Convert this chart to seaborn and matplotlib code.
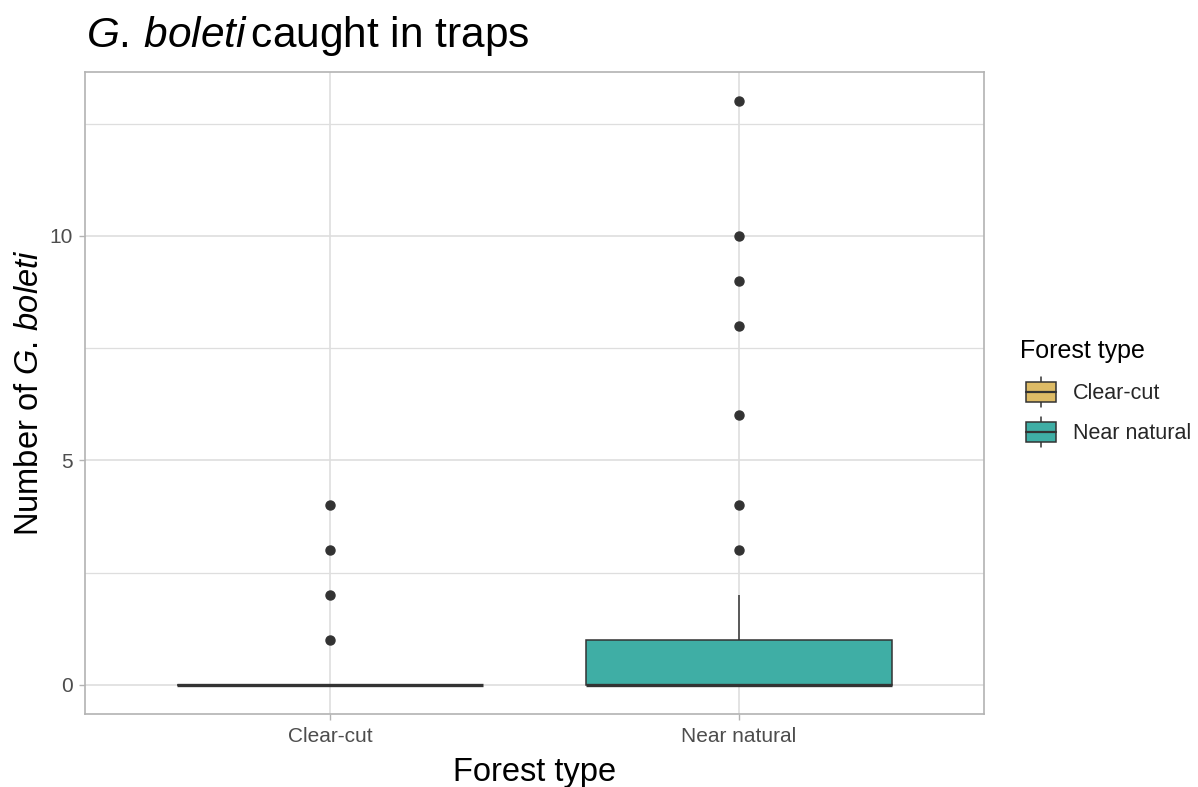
import numpy as np
import pandas as pd
import matplotlib
matplotlib.use("Agg")
import matplotlib.pyplot as plt
import seaborn as sns
from matplotlib.patches import Patch, Rectangle
from matplotlib.lines import Line2D
from matplotlib.legend_handler import HandlerBase

# Trap counts per forest type
clear_cut_counts = [0] * 40 + [1, 2, 3, 4]
near_natural_counts = [0] * 24 + [1] * 12 + [2] * 3 + [3, 4, 6, 8, 9, 10, 13]

forest_types = ["Clear-cut", "Near natural"]
palette_colors = ["#DDBB66", "#3FAEA5"]
y_ticks = [0, 5, 10]
y_minor = [2.5, 7.5, 12.5]

df = pd.DataFrame({
    "Forest type": ["Clear-cut"] * len(clear_cut_counts) + ["Near natural"] * len(near_natural_counts),
    "count": clear_cut_counts + near_natural_counts,
})

sns.set_theme(style="white")
plt.rcParams["font.family"] = ["Liberation Sans", "DejaVu Sans"]
plt.rcParams["mathtext.fontset"] = "custom"
plt.rcParams["mathtext.rm"] = "Liberation Sans"
plt.rcParams["mathtext.it"] = "Liberation Sans:italic"

DPI = 100
fig = plt.figure(figsize=(11.98, 7.87), dpi=DPI)
W, H = 1198, 787
left, right, top, bottom = 85, 984, 72, 714
ax = fig.add_axes([left / W, 1 - bottom / H, (right - left) / W, (bottom - top) / H])

dark = "#333333"
sns.boxplot(
    data=df, x="Forest type", y="count", hue="Forest type",
    order=forest_types, hue_order=forest_types,
    palette=dict(zip(forest_types, palette_colors)),
    width=0.75, linecolor=dark, linewidth=1.1, saturation=1,
    fliersize=6.5, showcaps=False,
    flierprops=dict(marker="o", markerfacecolor=dark, markeredgecolor=dark),
    medianprops=dict(linewidth=2.4, color=dark),
    legend=False, ax=ax, zorder=3,
)

ax.set_xlim(-0.6, 1.6)
ax.set_ylim(-0.65, 13.65)
ax.set_yticks(y_ticks)
ax.set_yticks(y_minor, minor=True)
ax.set_yticklabels([str(t) for t in y_ticks])

grid_c = "#DEDEDE"
ax.grid(True, which="major", color=grid_c, linewidth=1.2, zorder=0)
ax.grid(True, which="minor", axis="y", color=grid_c, linewidth=0.9, zorder=0)
ax.set_axisbelow(True)
for s in ax.spines.values():
    s.set_color("#B3B3B3")
    s.set_linewidth(1.2)

ax.tick_params(axis="both", which="major", length=4, width=1, color="#B3B3B3",
               labelsize=15, labelcolor="#4D4D4D", pad=5, left=True, bottom=True)
ax.tick_params(axis="y", which="minor", length=0)
ax.set_xlabel("")
ax.set_ylabel("")

fig.text(0.5 * (left + right) / W, 5.5 / H, "Forest type", ha="center", va="baseline",
         fontsize=23.5, color="black")
fig.text(30 / W, 1 - 0.5 * (top + bottom) / H, r"Number of $\it{G.\,boleti}$",
         rotation=90, ha="center", va="center", fontsize=23.5, color="black")
fig.text(86 / W, 1 - 47 / H, r"$\it{G.\,boleti}\,$caught in traps", ha="left",
         va="baseline", fontsize=30.5, color="black")


class BoxKey(HandlerBase):
    def create_artists(self, legend, orig_handle, xdescent, ydescent, width, height, fontsize, trans):
        x0, y0 = -xdescent, -ydescent
        bh = height * 0.66
        by = y0 + (height - bh) / 2
        xm = x0 + width / 2
        whisk = Line2D([xm, xm], [y0, y0 + height], color=dark, linewidth=1.1, transform=trans)
        rect = Rectangle((x0, by), width, bh, facecolor=orig_handle.get_facecolor(),
                         edgecolor=dark, linewidth=1.1, transform=trans)
        med = Line2D([x0, x0 + width], [by + bh / 2, by + bh / 2], color=dark,
                     linewidth=1.6, transform=trans)
        return [whisk, rect, med]


# Legend title drawn on its own so the keys can sit slightly indented
fig.text(1020 / W, 1 - 358 / H, "Forest type", ha="left", va="baseline",
         fontsize=18, color="black")
handles = [Patch(facecolor=c, edgecolor=dark) for c in palette_colors]
leg = fig.legend(handles, forest_types, handler_map={Patch: BoxKey()},
                 loc="center left", bbox_to_anchor=(1026 / W, 1 - 412 / H),
                 frameon=False, fontsize=15.5,
                 handlelength=1.4, handleheight=1.8, labelspacing=0.45,
                 handletextpad=0.8, borderpad=0, borderaxespad=0)

fig.savefig("out.png", dpi=DPI, facecolor="white")
